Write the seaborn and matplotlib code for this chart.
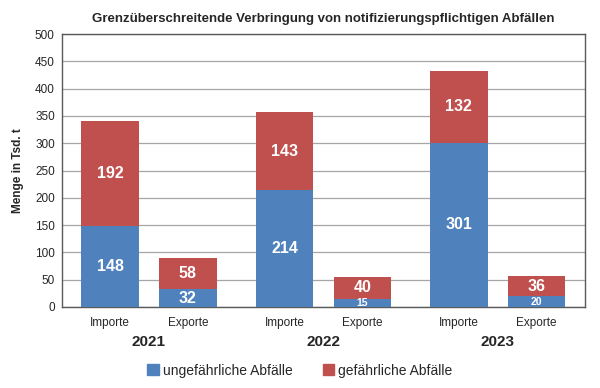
import matplotlib
matplotlib.use("Agg")
import matplotlib.pyplot as plt
import numpy as np
import pandas as pd
import seaborn as sns
from matplotlib.patches import Patch

years = ["2021", "2022", "2023"]
kinds = ["Importe", "Exporte"]
ungefaehrlich = [148, 32, 214, 15, 301, 20]
gefaehrlich = [192, 58, 143, 40, 132, 36]

BLUE = "#4F81BD"
RED = "#C0504D"


def main():
    sns.set_theme(style="white")
    plt.rcParams["font.family"] = ["Liberation Sans", "DejaVu Sans"]

    pos = []
    for g in range(len(years)):
        for k in range(len(kinds)):
            pos.append(g + 0.5 + (k - 0.5) * 0.446)
    df = pd.DataFrame({
        "x": pos,
        "blue": ungefaehrlich,
        "red": gefaehrlich,
    })
    df["total"] = df["blue"] + df["red"]

    fig = plt.figure(figsize=(6, 3.88), dpi=100)
    ax = fig.add_axes([0.103, 0.209, 0.872, 0.703])

    sns.barplot(data=df, x="x", y="total", native_scale=True, color=RED,
                saturation=1, width=0.74, linewidth=0, ax=ax, zorder=3)
    sns.barplot(data=df, x="x", y="blue", native_scale=True, color=BLUE,
                saturation=1, width=0.74, linewidth=0, ax=ax, zorder=3)

    for _, r in df.iterrows():
        small = r["blue"] < 25
        ax.text(r["x"], r["blue"] / 2 - (1 if small else 0), f"{int(r['blue'])}",
                ha="center", va="center", color="white", fontweight="bold",
                fontsize=7.5 if small else 11.5, zorder=4)
        ax.text(r["x"], r["blue"] + r["red"] / 2, f"{int(r['red'])}",
                ha="center", va="center", color="white", fontweight="bold",
                fontsize=11.5, zorder=4)

    ax.set_xlim(0, 3)
    ax.set_ylim(0, 500)
    ax.set_yticks(np.arange(0, 501, 50))
    ax.tick_params(axis="y", labelsize=8.5, length=0, pad=5)
    ax.set_xticks(df["x"])
    ax.set_xticklabels(kinds * len(years), fontsize=8.5)
    ax.tick_params(axis="x", length=0, pad=7)
    ax.set_xlabel("")
    ax.set_ylabel("Menge in Tsd. t", fontsize=8.5, fontweight="bold", labelpad=8)
    ax.yaxis.grid(True, color="#a6a6a6", linewidth=0.9, zorder=0)
    ax.set_axisbelow(True)
    for s in ax.spines.values():
        s.set_color("#595959")
        s.set_linewidth(1)

    for g, y in enumerate(years):
        ax.text(g + 0.5, -0.13, y, transform=ax.get_xaxis_transform(),
                ha="center", va="center", fontsize=11, fontweight="bold")

    ax.set_title("Grenzüberschreitende Verbringung von notifizierungspflichtigen Abfällen",
                 fontsize=9.5, fontweight="bold", pad=9)

    handles = [Patch(color=BLUE, label="ungefährliche Abfälle"),
               Patch(color=RED, label="gefährliche Abfälle")]
    fig.legend(handles=handles, loc="center", bbox_to_anchor=(0.5, 0.045), ncol=2,
               frameon=False, fontsize=10, handlelength=0.8, handleheight=0.8,
               handletextpad=0.3, columnspacing=2.2)

    fig.savefig("out.png", dpi=100)


if __name__ == "__main__":
    main()
